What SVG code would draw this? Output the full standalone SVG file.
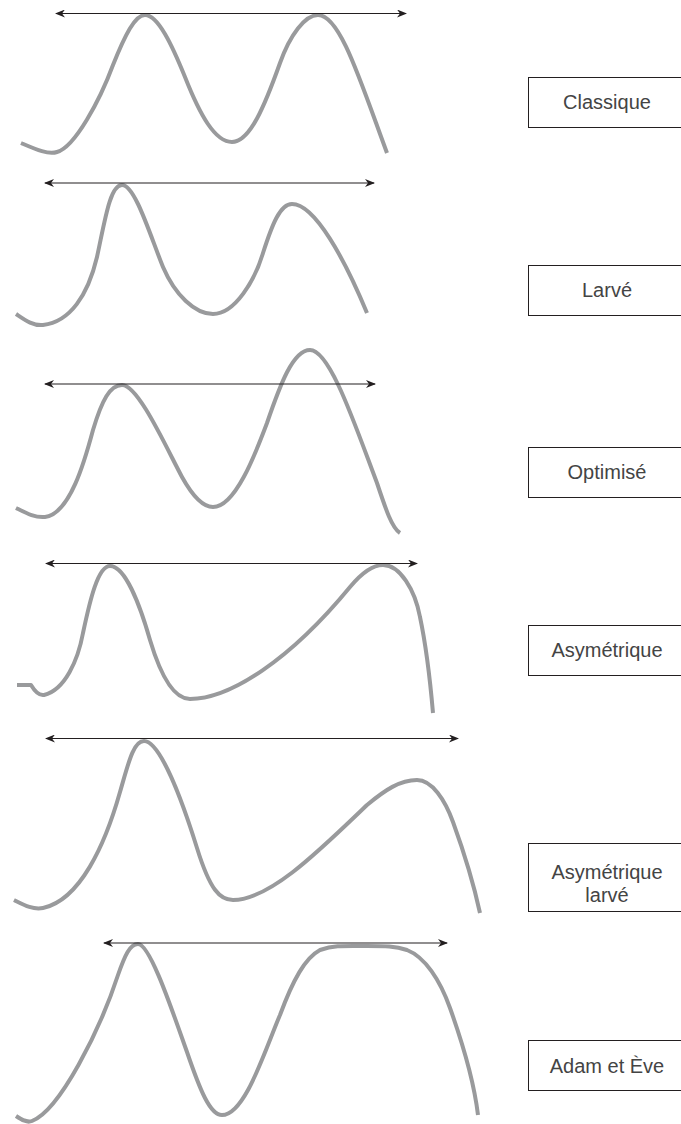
<svg xmlns="http://www.w3.org/2000/svg" width="681" height="1124" viewBox="0 0 681 1124">
<style>
.curve{fill:none;stroke:#999a9c;stroke-width:4;stroke-linecap:butt;stroke-linejoin:round}
.arrow{fill:none;stroke:#231f20;stroke-width:1.2}
.box{fill:#fff;stroke:#231f20;stroke-width:1}
.lbl{font-family:"Liberation Sans",Arial,sans-serif;font-size:20px;fill:#444;text-anchor:middle}
</style>
<defs>
<marker id="ah" viewBox="0 0 10 8" refX="9" refY="4" markerWidth="10" markerHeight="8" markerUnits="userSpaceOnUse" orient="auto-start-reverse">
<path d="M0,0 L10,4 L0,8 L3,4 Z" fill="#231f20"/>
</marker>
</defs>
<g id="curves">
<path class="curve" d="M21,143 C35,149 48,155 57,152 C75,147 100,100 113,65 C125,35 135,15 145,15 C158,15 172,45 185,77 C200,115 215,142 232,142 C250,142 265,105 280,63 C290,35 305,15 318,15 C340,15 360,80 387,153"/>
<path class="curve" d="M16,314 C25,320 33,326 43,325 C70,322 88,295 97,257 C105,220 110,185 122,185 C135,185 150,235 163,267 C175,295 195,314 213,314 C235,314 255,280 263,253 C272,225 280,204 292,204 C315,204 345,260 367,313"/>
<path class="curve" d="M16,508 C26,513 35,518 45,517 C70,514 85,460 93,430 C102,400 110,385 122,385 C138,385 165,445 182,477 C192,495 202,507 213,507 C235,507 255,455 267,423 C280,385 293,350 310,350 C330,350 355,425 377,483 C386,510 392,528 400,533"/>
<path class="curve" d="M17,685 L31,685 C34,690 38,696 44,695 C65,690 78,660 83,633 C90,600 98,566 110,566 C125,566 140,605 150,640 C162,680 175,699 190,699 C230,699 290,660 350,587 C360,575 372,565 383,565 C400,565 415,590 420,617 C427,650 431,690 433,713"/>
<path class="curve" d="M14,900 C24,905 33,910 43,908 C80,900 105,845 120,792 C128,765 133,741 144,741 C160,741 182,800 197,848 C210,890 220,900 233,900 C270,900 320,850 367,805 C385,790 400,780 417,780 C432,780 445,800 453,822 C465,855 475,890 480,913"/>
<path class="curve" d="M16,1116 C22,1120 27,1123 32,1121 C60,1110 100,1030 118,975 C125,955 130,944 138,944 C150,944 172,1010 187,1052 C200,1090 210,1115 222,1115 C245,1115 265,1050 280,1015 C293,980 305,958 320,950 C335,945 345,946 367,946 C385,946 395,946 407,950 C425,957 440,980 450,1008 C465,1050 475,1090 478,1115"/>
</g>
<g id="connectors">
<line class="arrow" x1="56" y1="13.5" x2="406" y2="13.5" marker-start="url(#ah)" marker-end="url(#ah)"/>
<line class="arrow" x1="45" y1="183" x2="374" y2="183" marker-start="url(#ah)" marker-end="url(#ah)"/>
<line class="arrow" x1="45" y1="384" x2="375" y2="384" marker-start="url(#ah)" marker-end="url(#ah)"/>
<line class="arrow" x1="46" y1="563.5" x2="417" y2="563.5" marker-start="url(#ah)" marker-end="url(#ah)"/>
<line class="arrow" x1="46" y1="738.5" x2="458" y2="738.5" marker-start="url(#ah)" marker-end="url(#ah)"/>
<line class="arrow" x1="104" y1="943" x2="447" y2="943" marker-start="url(#ah)" marker-end="url(#ah)"/>
</g>
<g id="node-classique"><rect class="box" x="528.5" y="77.5" width="160" height="50"/><text class="lbl" x="607" y="109">Classique</text></g>
<g id="node-larve"><rect class="box" x="528.5" y="265.5" width="160" height="50"/><text class="lbl" x="607" y="297">Larvé</text></g>
<g id="node-optimise"><rect class="box" x="528.5" y="447.5" width="160" height="50"/><text class="lbl" x="607" y="479">Optimisé</text></g>
<g id="node-asymetrique"><rect class="box" x="528.5" y="625.5" width="160" height="50"/><text class="lbl" x="607" y="657">Asymétrique</text></g>
<g id="node-asymetrique-larve"><rect class="box" x="528.5" y="843.5" width="160" height="68"/><text class="lbl" x="607" y="879">Asymétrique</text><text class="lbl" x="607" y="902">larvé</text></g>
<g id="node-adam-eve"><rect class="box" x="528.5" y="1040.5" width="160" height="50"/><text class="lbl" x="607" y="1073">Adam et Ève</text></g>
</svg>
